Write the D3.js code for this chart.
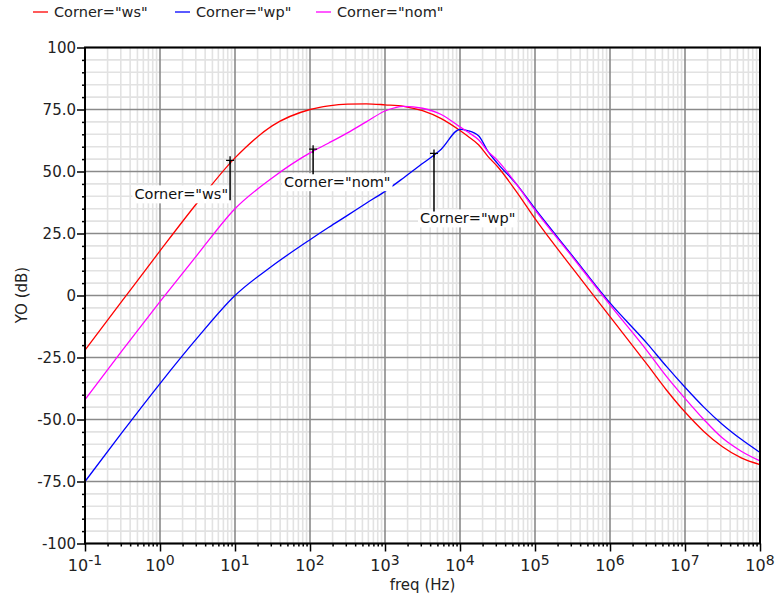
<!DOCTYPE html>
<html>
<head>
<meta charset="utf-8">
<script src="https://cdn.jsdelivr.net/npm/d3@7"></script>
<style>
  html, body { margin: 0; padding: 0; background: #fff; }
  svg { display: block; font-family: "DejaVu Sans", sans-serif; }
</style>
</head>
<body>
<svg id="chart" width="777" height="599"></svg>
<script>
// ---------------- data ----------------
const freqHz = [0.1, 0.316, 1, 3.16, 10, 31.6, 100, 178, 316, 562, 1000, 1780, 3160, 5620,
  10000, 12600, 17800, 23700, 31600, 56200, 1e5, 3.16e5, 1e6, 3.16e6, 5.62e6, 1e7, 1.78e7, 3.16e7, 5.62e7, 1e8];
const seriesNames = ['Corner="ws"', 'Corner="wp"', 'Corner="nom"'];
const wsValues = [-22, -2, 18, 37.5, 55.5, 68.5, 75, 76.5, 77.2, 77.3, 76.9, 76.3, 74.5, 71.3,
  66.5, 64.3, 60.7, 56, 52, 42, 31, 11, -8.5, -28, -38, -47, -54.8, -61, -65.5, -68.2];
const wpValues = [-75, -55, -35.5, -17, 0, 12, 22.5, 27.5, 32.3, 37.2, 42, 47.5, 53.2, 59,
  67, 66.5, 64.3, 58, 53.3, 45, 35, 16, -3, -19.5, -28.5, -37, -45, -52, -58, -63.3];
const nomValues = [-42, -22, -2.5, 16.5, 35, 47.5, 57.5, 61.5, 65.6, 70, 74.4, 76.3, 75.5, 73,
  68, 66, 62.7, 58, 54.5, 45, 34.5, 15.5, -3.8, -22.5, -32.5, -41.5, -50, -57.5, -62.8, -66.7];
const seriesColors = ["#ff0000", "#0000ff", "#ff00ff"];

const yTickValues = [100, 75, 50, 25, 0, -25, -50, -75, -100];
const yTickLabels = ["100", "75.0", "50.0", "25.0", "0", "-25.0", "-50.0", "-75.0", "-100"];
const xTickValues = [0.1, 1, 10, 100, 1000, 1e4, 1e5, 1e6, 1e7, 1e8];
const xTickExponents = ["-1", "0", "1", "2", "3", "4", "5", "6", "7", "8"];

const markerLabels = ['Corner="ws"', 'Corner="nom"', 'Corner="wp"'];
const markerFreq = [8.6, 110, 4500];
const markerValue = [54.5, 59, 57.3];

const xTitle = "freq (Hz)";
const yTitle = "YO (dB)";

// ---------------- layout ----------------
const L = 85, R = 760, T = 47.5, B = 543.5;
const svg = d3.select("#chart");
const x = d3.scaleLog().domain([0.1, 1e8]).range([L, R]);
const y = d3.scaleLinear().domain([-100, 100]).range([B, T]);

// grid
const minorX = [];
for (let d = -1; d < 8; d++) for (let k = 2; k <= 9; k++) minorX.push(k * Math.pow(10, d));
const minorY = d3.range(-100, 101, 5).filter(v => v % 25 !== 0);
const grid = svg.append("g");
grid.selectAll(".mx").data(minorX).join("line")
  .attr("x1", d => x(d)).attr("x2", d => x(d)).attr("y1", T).attr("y2", B)
  .attr("stroke", "#e2e2e2").attr("stroke-width", 1.6);
grid.selectAll(".my").data(minorY).join("line")
  .attr("y1", d => y(d)).attr("y2", d => y(d)).attr("x1", L).attr("x2", R)
  .attr("stroke", "#e2e2e2").attr("stroke-width", 1.6);
grid.selectAll(".Mx").data(xTickValues).join("line")
  .attr("x1", d => x(d)).attr("x2", d => x(d)).attr("y1", T).attr("y2", B)
  .attr("stroke", "#8a8a8a").attr("stroke-width", 1.6);
grid.selectAll(".My").data(yTickValues).join("line")
  .attr("y1", d => y(d)).attr("y2", d => y(d)).attr("x1", L).attr("x2", R)
  .attr("stroke", "#8a8a8a").attr("stroke-width", 1.6);

// curves
const seriesValues = [wsValues, wpValues, nomValues];
const line = d3.line().x(d => x(d[0])).y(d => y(d[1])).curve(d3.curveMonotoneX);
const plot = svg.append("g");
seriesValues.forEach((vals, i) => {
  plot.append("path")
    .datum(freqHz.map((f, j) => [f, vals[j]]))
    .attr("fill", "none").attr("stroke", seriesColors[i]).attr("stroke-width", 1.3)
    .attr("d", line);
});

// annotations
const annLayout = [
  { anchor: "end", dx: -2, dy: 39, lineEnd: 40 },
  { anchor: "start", dx: -29, dy: 38, lineEnd: 25 },
  { anchor: "start", dx: -14, dy: 70, lineEnd: 58 }
];
const ann = svg.append("g");
markerLabels.forEach((lab, i) => {
  const mx = x(markerFreq[i]), my = y(markerValue[i]);
  const lay = annLayout[i];
  const g = ann.append("g");
  const t = g.append("text").attr("x", mx + lay.dx).attr("y", my + lay.dy)
    .attr("text-anchor", lay.anchor).attr("font-size", 14.5).attr("fill", "#111").text(lab);
  const bb = t.node().getBBox();
  g.insert("rect", "text").attr("x", bb.x - 2).attr("y", bb.y - 1)
    .attr("width", bb.width + 4).attr("height", bb.height + 2).attr("fill", "#fff");
  g.append("line").attr("x1", mx).attr("x2", mx).attr("y1", my).attr("y2", my + lay.lineEnd)
    .attr("stroke", "#000").attr("stroke-width", 1.5);
  g.append("path").attr("d", `M${mx - 4},${my}H${mx + 4}M${mx},${my - 4}V${my + 4}`)
    .attr("stroke", "#000").attr("stroke-width", 1.3).attr("fill", "none");
});

// axes
const yAxis = svg.append("g").attr("transform", `translate(${L},0)`)
  .call(d3.axisLeft(y).tickValues(yTickValues).tickSize(8).tickPadding(1)
    .tickFormat((d, i) => yTickLabels[i]));
yAxis.select(".domain").remove();
yAxis.selectAll("text").attr("font-size", 15).attr("fill", "#222")
  .attr("font-family", "DejaVu Sans");
yAxis.selectAll("line").attr("stroke", "#000").attr("stroke-width", 1.5);
const yMinor = svg.append("g").attr("transform", `translate(${L},0)`)
  .call(d3.axisLeft(y).tickValues(minorY).tickSize(3).tickFormat(""));
yMinor.select(".domain").remove();
yMinor.selectAll("line").attr("stroke", "#000").attr("stroke-width", 1.5);

const xAxis = svg.append("g").attr("transform", `translate(0,${B})`)
  .call(d3.axisBottom(x).tickValues(xTickValues).tickSize(8).tickFormat(""));
xAxis.select(".domain").remove();
xAxis.selectAll("line").attr("stroke", "#000").attr("stroke-width", 1.5);
const xMinor = svg.append("g").attr("transform", `translate(0,${B})`)
  .call(d3.axisBottom(x).tickValues(minorX).tickSize(3).tickFormat(""));
xMinor.select(".domain").remove();
xMinor.selectAll("line").attr("stroke", "#000").attr("stroke-width", 1.5);

xTickValues.forEach((v, i) => {
  const t = svg.append("text").attr("x", x(v)).attr("y", 571)
    .attr("text-anchor", "middle").attr("fill", "#222").attr("font-size", 16);
  t.append("tspan").text("10");
  t.append("tspan").attr("font-size", 14).attr("dy", -6).text(xTickExponents[i]);
});

// frame
svg.append("rect").attr("x", L).attr("y", T).attr("width", R - L).attr("height", B - T)
  .attr("fill", "none").attr("stroke", "#000").attr("stroke-width", 2);

// titles
svg.append("text").attr("x", (L + R) / 2).attr("y", 590).attr("text-anchor", "middle")
  .attr("font-size", 15).attr("fill", "#222").text(xTitle);
svg.append("text").attr("transform", "translate(27,295) rotate(-90)")
  .attr("text-anchor", "middle").attr("font-size", 15).attr("fill", "#222").text(yTitle);

// legend
const legendX = [33, 175, 316];
seriesNames.forEach((n, i) => {
  const g = svg.append("g").attr("transform", `translate(${legendX[i]},12)`);
  g.append("line").attr("x1", 0).attr("x2", 15).attr("y1", 0).attr("y2", 0)
    .attr("stroke", seriesColors[i]).attr("stroke-width", 1.3);
  g.append("text").attr("x", 21).attr("y", 5).attr("font-size", 14.5).attr("fill", "#222").text(n);
});
</script>
</body>
</html>
